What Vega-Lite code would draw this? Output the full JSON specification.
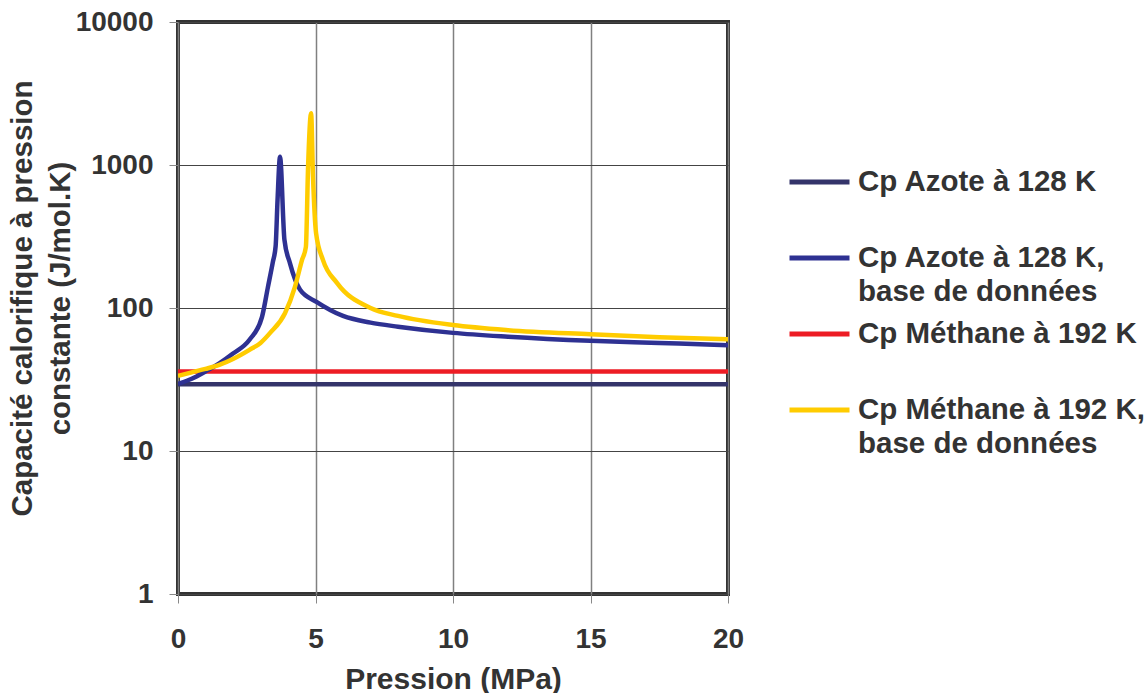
{
  "$schema": "https://vega.github.io/schema/vega-lite/v6.json",
  "width": 550,
  "height": 572,
  "autosize": {"type": "none"},
  "padding": {"left": 178, "top": 22, "right": 419, "bottom": 99},
  "background": "white",
  "config": {
    "view": {"stroke": "#333333", "strokeWidth": 4},
    "font": "Liberation Sans"
  },
  "data": {
    "values": [
      {"serie": "Cp Azote à 128 K", "p": 0, "cp": 29.3},
      {"serie": "Cp Azote à 128 K", "p": 20, "cp": 29.3},
      {"serie": "Cp Méthane à 192 K", "p": 0, "cp": 35.9},
      {"serie": "Cp Méthane à 192 K", "p": 20, "cp": 35.9},
      {"serie": "Cp Azote à 128 K, base de données", "p": 0, "cp": 29.5},
      {"serie": "Cp Azote à 128 K, base de données", "p": 0.5, "cp": 32},
      {"serie": "Cp Azote à 128 K, base de données", "p": 1.0, "cp": 36},
      {"serie": "Cp Azote à 128 K, base de données", "p": 1.5, "cp": 41},
      {"serie": "Cp Azote à 128 K, base de données", "p": 2.0, "cp": 48},
      {"serie": "Cp Azote à 128 K, base de données", "p": 2.6, "cp": 60},
      {"serie": "Cp Azote à 128 K, base de données", "p": 3.05, "cp": 86},
      {"serie": "Cp Azote à 128 K, base de données", "p": 3.27, "cp": 140},
      {"serie": "Cp Azote à 128 K, base de données", "p": 3.45, "cp": 210},
      {"serie": "Cp Azote à 128 K, base de données", "p": 3.55, "cp": 270},
      {"serie": "Cp Azote à 128 K, base de données", "p": 3.62, "cp": 570},
      {"serie": "Cp Azote à 128 K, base de données", "p": 3.71, "cp": 1140},
      {"serie": "Cp Azote à 128 K, base de données", "p": 3.87, "cp": 300},
      {"serie": "Cp Azote à 128 K, base de données", "p": 4.07, "cp": 206},
      {"serie": "Cp Azote à 128 K, base de données", "p": 4.44, "cp": 134},
      {"serie": "Cp Azote à 128 K, base de données", "p": 5.05, "cp": 110},
      {"serie": "Cp Azote à 128 K, base de données", "p": 6.0, "cp": 88},
      {"serie": "Cp Azote à 128 K, base de données", "p": 7.0, "cp": 79},
      {"serie": "Cp Azote à 128 K, base de données", "p": 8.0, "cp": 74},
      {"serie": "Cp Azote à 128 K, base de données", "p": 10, "cp": 67},
      {"serie": "Cp Azote à 128 K, base de données", "p": 12, "cp": 63},
      {"serie": "Cp Azote à 128 K, base de données", "p": 15, "cp": 59},
      {"serie": "Cp Azote à 128 K, base de données", "p": 17.5, "cp": 57},
      {"serie": "Cp Azote à 128 K, base de données", "p": 20, "cp": 55},
      {"serie": "Cp Méthane à 192 K, base de données", "p": 0, "cp": 33.5},
      {"serie": "Cp Méthane à 192 K, base de données", "p": 0.5, "cp": 35.5},
      {"serie": "Cp Méthane à 192 K, base de données", "p": 1.0, "cp": 37.5},
      {"serie": "Cp Méthane à 192 K, base de données", "p": 1.5, "cp": 40},
      {"serie": "Cp Méthane à 192 K, base de données", "p": 2.0, "cp": 44},
      {"serie": "Cp Méthane à 192 K, base de données", "p": 2.6, "cp": 51},
      {"serie": "Cp Méthane à 192 K, base de données", "p": 3.0, "cp": 57},
      {"serie": "Cp Méthane à 192 K, base de données", "p": 3.35, "cp": 67},
      {"serie": "Cp Méthane à 192 K, base de données", "p": 3.89, "cp": 92},
      {"serie": "Cp Méthane à 192 K, base de données", "p": 4.25, "cp": 140},
      {"serie": "Cp Méthane à 192 K, base de données", "p": 4.51, "cp": 217},
      {"serie": "Cp Méthane à 192 K, base de données", "p": 4.65, "cp": 267},
      {"serie": "Cp Méthane à 192 K, base de données", "p": 4.73, "cp": 968},
      {"serie": "Cp Méthane à 192 K, base de données", "p": 4.84, "cp": 2300},
      {"serie": "Cp Méthane à 192 K, base de données", "p": 4.91, "cp": 824},
      {"serie": "Cp Méthane à 192 K, base de données", "p": 5.02, "cp": 335},
      {"serie": "Cp Méthane à 192 K, base de données", "p": 5.27, "cp": 217},
      {"serie": "Cp Méthane à 192 K, base de données", "p": 5.78, "cp": 150},
      {"serie": "Cp Méthane à 192 K, base de données", "p": 7.0, "cp": 100},
      {"serie": "Cp Méthane à 192 K, base de données", "p": 8.0, "cp": 88},
      {"serie": "Cp Méthane à 192 K, base de données", "p": 10, "cp": 76},
      {"serie": "Cp Méthane à 192 K, base de données", "p": 12, "cp": 70},
      {"serie": "Cp Méthane à 192 K, base de données", "p": 15, "cp": 65.5},
      {"serie": "Cp Méthane à 192 K, base de données", "p": 17.5, "cp": 62.5},
      {"serie": "Cp Méthane à 192 K, base de données", "p": 20, "cp": 60.5}
    ]
  },
  "mark": {"type": "line", "strokeWidth": 4.5, "interpolate": "monotone", "clip": true},
  "encoding": {
    "x": {
      "field": "p",
      "type": "quantitative",
      "scale": {"domain": [0, 20], "nice": false},
      "axis": {
        "values": [0, 5, 10, 15, 20],
        "grid": true,
        "gridColor": "#808080",
        "gridWidth": 1.5,
        "domain": false,
        "tickColor": "#888888",
        "tickSize": 9,
        "labelFontSize": 28,
        "labelFontWeight": "bold",
        "labelColor": "#333333",
        "labelPadding": 22,
        "labelFlush": false,
        "labelOverlap": false,
        "title": "Pression (MPa)",
        "titleFontSize": 30,
        "titleFontWeight": "bold",
        "titleColor": "#333333",
        "titleY": 94,
        "titleBaseline": "alphabetic"
      }
    },
    "y": {
      "field": "cp",
      "type": "quantitative",
      "scale": {"type": "log", "domain": [1, 10000]},
      "axis": {
        "values": [1, 10, 100, 1000, 10000],
        "format": "d",
        "grid": true,
        "gridColor": "#444444",
        "gridWidth": 1,
        "domain": false,
        "tickColor": "#888888",
        "tickSize": 9,
        "labelFontSize": 28,
        "labelFontWeight": "bold",
        "labelColor": "#333333",
        "labelPadding": 16,
        "labelFlush": false,
        "labelOverlap": false,
        "title": ["Capacité calorifique à pression", "constante (J/mol.K)"],
        "titleFontSize": 29.5,
        "titleFontWeight": "bold",
        "titleColor": "#333333",
        "titleLineHeight": 38,
        "titleAngle": -90,
        "titleAlign": "center",
        "titleBaseline": "alphabetic",
        "titleX": -147,
        "titleY": 276
      }
    },
    "color": {
      "field": "serie",
      "type": "nominal",
      "scale": {
        "domain": ["Cp Azote à 128 K", "Cp Azote à 128 K, base de données", "Cp Méthane à 192 K", "Cp Méthane à 192 K, base de données"],
        "range": ["#34346a", "#2e3192", "#ed1c24", "#ffcc00"]
      },
      "legend": {
        "orient": "none",
        "legendX": 609,
        "legendY": 140,
        "title": null,
        "symbolType": "stroke",
        "symbolSize": 3600,
        "symbolStrokeWidth": 5,
        "labelFontSize": 29.5,
        "labelFontWeight": "bold",
        "labelColor": "#333333",
        "labelOffset": 6,
        "labelLimit": 400,
        "clipHeight": 75.5,
        "rowPadding": 0,
        "labelExpr": "indexof(datum.label, ', base') > 0 ? [slice(datum.label, 0, indexof(datum.label, ' base')), 'base de données'] : datum.label",
        "encode": {
          "labels": {"update": {"lineHeight": {"value": 34}, "y": {"value": 20}}},
          "symbols": {"update": {"y": {"value": 20}}}
        }
      }
    }
  }
}
